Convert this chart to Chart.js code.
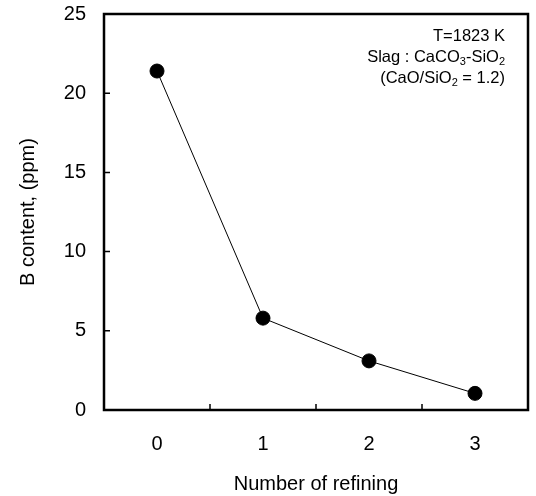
<!DOCTYPE html>
<html>
<head>
<meta charset="utf-8">
<script src="https://cdn.jsdelivr.net/npm/chart.js@4"></script>
<style>
  html, body { margin: 0; padding: 0; background: #fff; }
  #wrap { width: 536px; height: 496px; }
</style>
</head>
<body>
<div id="wrap"><canvas id="chart"></canvas></div>
<script>
// data
const refiningLabels = ['0', '1', '2', '3'];
const bContent = [21.4, 5.8, 3.1, 1.05];
const yMin = 0;
const yMax = 25;
const yStep = 5;
// note text, [text, isSubscript]
const noteLines = [
    [['T=1823 K', 0]],
    [['Slag : CaCO', 0], ['3', 1], ['-SiO', 0], ['2', 1]],
    [['(CaO/SiO', 0], ['2', 1], [' = 1.2)', 0]]
];

const FONT = '"Liberation Sans", Arial, sans-serif';
Chart.defaults.font.family = FONT;
Chart.defaults.color = '#000';

// frame, inward ticks and the note in the top right corner
const framePlugin = {
    id: 'frame',
    afterDraw(chart) {
        const { ctx, chartArea: a, scales: { x, y } } = chart;
        ctx.save();
        ctx.strokeStyle = '#000';
        ctx.lineWidth = 2.5;
        ctx.strokeRect(a.left, a.top, a.right - a.left, a.bottom - a.top);

        ctx.lineWidth = 1.5;
        ctx.beginPath();
        for (let v = yMin + yStep; v < yMax; v += yStep) {
            const py = y.getPixelForValue(v);
            ctx.moveTo(a.left, py);
            ctx.lineTo(a.left + 6, py);
        }
        for (let i = 0; i < refiningLabels.length - 1; i++) {
            const px = (x.getPixelForValue(i) + x.getPixelForValue(i + 1)) / 2;
            ctx.moveTo(px, a.bottom);
            ctx.lineTo(px, a.bottom - 6);
        }
        ctx.stroke();

        // note, right aligned
        const size = 16.5, sub = 11;
        const rightX = a.right - 23;
        ctx.fillStyle = '#000';
        ctx.textBaseline = 'alphabetic';
        noteLines.forEach((line, li) => {
            let w = 0;
            line.forEach(([t, s]) => {
                ctx.font = (s ? sub : size) + 'px ' + FONT;
                w += ctx.measureText(t).width;
            });
            let cx = rightX - w;
            const base = a.top + 27 + li * 21;
            line.forEach(([t, s]) => {
                ctx.font = (s ? sub : size) + 'px ' + FONT;
                ctx.fillText(t, cx, base + (s ? 3 : 0));
                cx += ctx.measureText(t).width;
            });
        });
        ctx.restore();
    }
};

new Chart(document.getElementById('chart'), {
    type: 'line',
    data: {
        labels: refiningLabels,
        datasets: [{
            data: bContent,
            borderColor: '#000',
            borderWidth: 1,
            pointRadius: 7,
            pointHoverRadius: 7,
            pointBackgroundColor: '#000',
            pointBorderColor: '#000',
            tension: 0
        }]
    },
    options: {
        responsive: true,
        maintainAspectRatio: false,
        animation: false,
        events: [],
        layout: { padding: { top: 14, right: 6, left: 0, bottom: 0 } },
        plugins: { legend: { display: false }, tooltip: { enabled: false } },
        scales: {
            x: {
                type: 'category',
                offset: true,
                grid: { display: false, drawTicks: false },
                border: { display: false },
                ticks: { font: { size: 20 }, padding: 22, color: '#000' },
                title: { display: true, text: 'Number of refining', font: { size: 20 }, padding: { top: 0, bottom: 0 }, color: '#000' },
                afterFit(scale) {
                    scale.height = 86;
                    scale.paddingLeft = 0;
                    scale.paddingRight = 0;
                }
            },
            y: {
                min: yMin,
                max: yMax,
                grid: { display: false, drawTicks: false },
                border: { display: false },
                ticks: { stepSize: yStep, font: { size: 20 }, padding: 18, color: '#000' },
                title: { display: true, text: 'B content, (ppm)', font: { size: 20 }, padding: { top: 16, bottom: 0 }, color: '#000' },
                afterFit(scale) {
                    scale.width = 104;
                    scale.paddingTop = 0;
                    scale.paddingBottom = 0;
                }
            }
        }
    },
    plugins: [framePlugin]
});
</script>
</body>
</html>
